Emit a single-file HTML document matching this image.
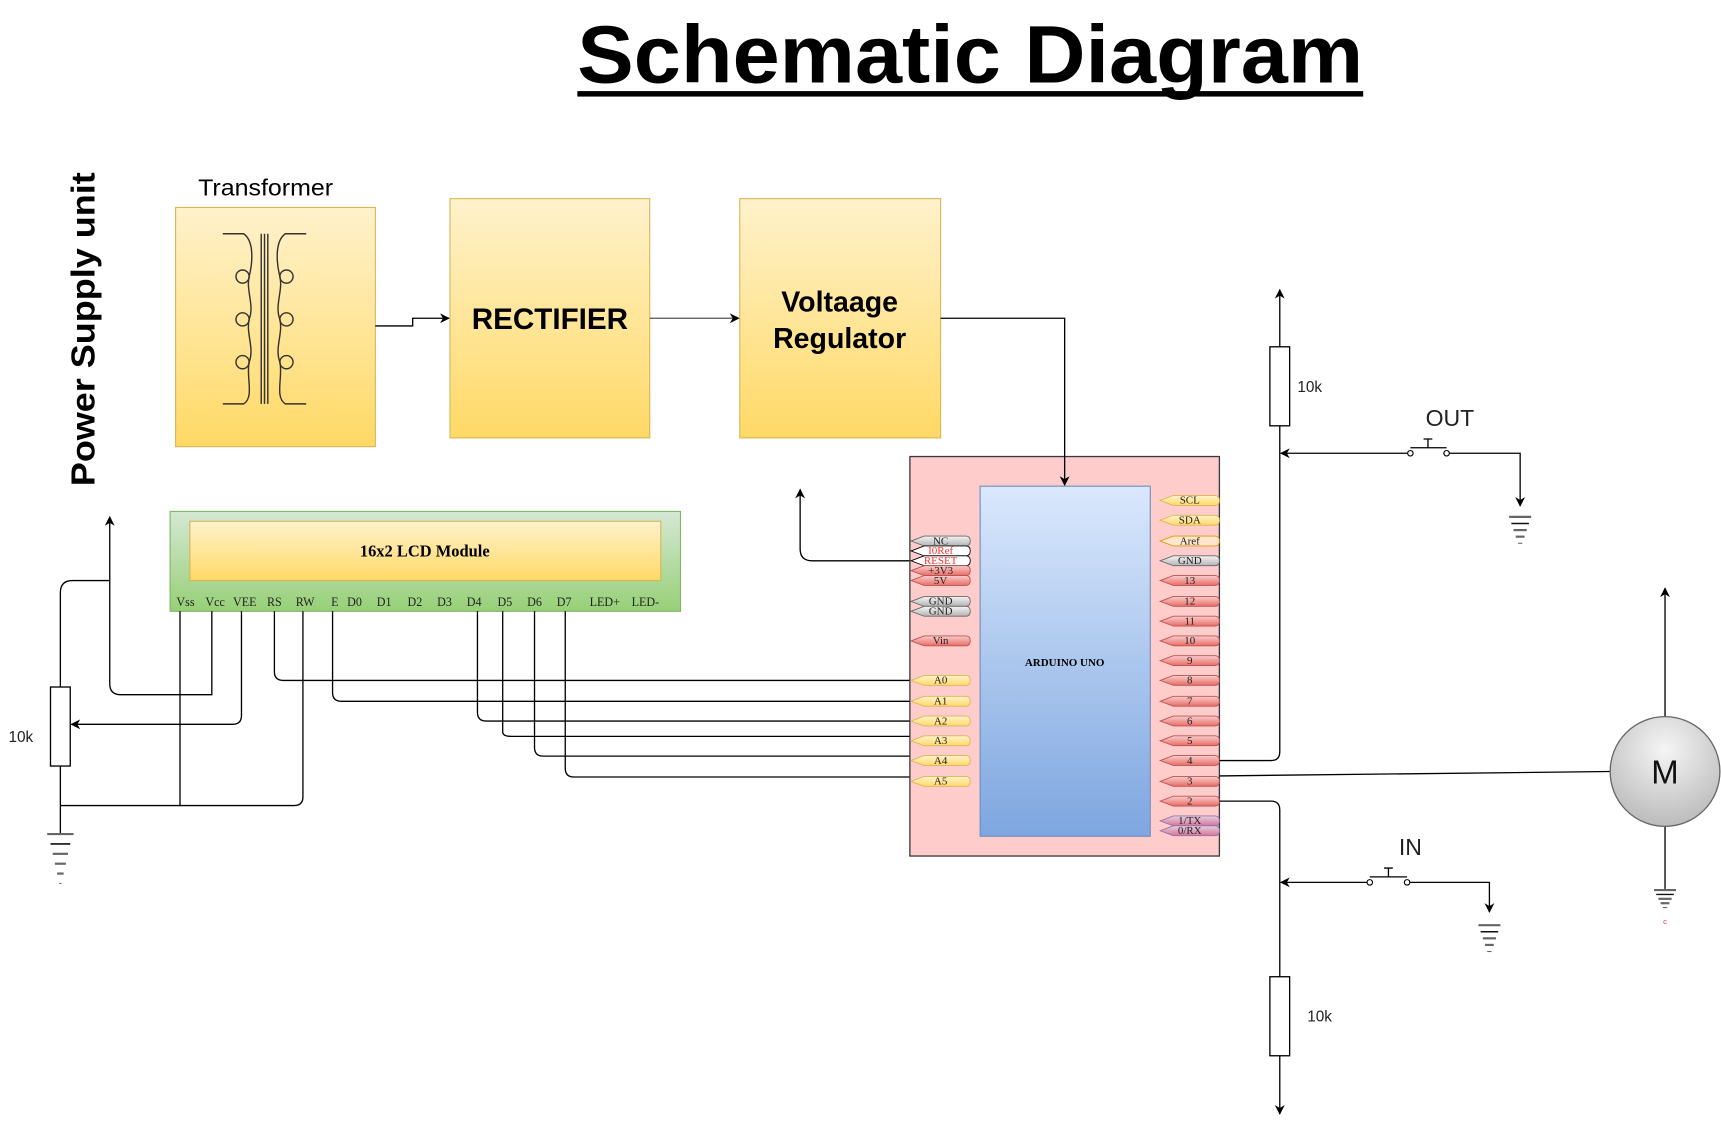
<!DOCTYPE html>
<html><head><meta charset="utf-8">
<style>
html,body{margin:0;padding:0;background:#fff;}
svg{display:block;}
text{font-family:"Liberation Sans",Arial,sans-serif;}
.ser{font-family:"Liberation Serif","Times New Roman",serif;}
</style></head>
<body>
<svg width="1721" height="1126" viewBox="0 0 1568 1026" preserveAspectRatio="none" xmlns="http://www.w3.org/2000/svg">
<defs>
<linearGradient id="yel" x1="0" y1="0" x2="0" y2="1"><stop offset="0" stop-color="#fff2cc"/><stop offset="1" stop-color="#ffd966"/></linearGradient>
<linearGradient id="grn" x1="0" y1="0" x2="0" y2="1"><stop offset="0" stop-color="#d5e8d4"/><stop offset="1" stop-color="#97d077"/></linearGradient>
<linearGradient id="blu" x1="0" y1="0" x2="0" y2="1"><stop offset="0" stop-color="#dae8fc"/><stop offset="1" stop-color="#7ea6e0"/></linearGradient>
<linearGradient id="red" x1="0" y1="0" x2="0" y2="1"><stop offset="0" stop-color="#f8cecc"/><stop offset="1" stop-color="#ea6b66"/></linearGradient>
<linearGradient id="gry" x1="0" y1="0" x2="0" y2="1"><stop offset="0" stop-color="#f5f5f5"/><stop offset="1" stop-color="#b3b3b3"/></linearGradient>
<linearGradient id="pur" x1="0" y1="0" x2="0" y2="1"><stop offset="0" stop-color="#e6d0de"/><stop offset="1" stop-color="#d5739d"/></linearGradient>
<linearGradient id="pyel" x1="0" y1="0" x2="0" y2="1"><stop offset="0" stop-color="#fff2cc"/><stop offset="1" stop-color="#ffd966"/></linearGradient>
<radialGradient id="mot" cx="0.5" cy="0.3" r="0.8"><stop offset="0" stop-color="#f5f5f5"/><stop offset="1" stop-color="#b3b3b3"/></radialGradient>
<marker id="ar" viewBox="0 0 10 10" refX="9" refY="5" markerWidth="9" markerHeight="9" orient="auto-start-reverse" markerUnits="userSpaceOnUse"><path d="M0,0 L10,5 L0,10 L3,5 Z" fill="#000"/></marker>
</defs>

<!-- Title -->
<text x="526" y="75" font-size="74" font-weight="bold" textLength="716" lengthAdjust="spacingAndGlyphs">Schematic Diagram</text>
<rect x="526" y="83" width="716" height="5" fill="#000"/>

<!-- Power supply label -->
<text transform="translate(86,443) rotate(-90)" font-size="30" font-weight="bold" textLength="286" lengthAdjust="spacingAndGlyphs">Power Supply unit</text>

<!-- Transformer -->
<text x="242" y="178" font-size="21" text-anchor="middle" textLength="123" lengthAdjust="spacingAndGlyphs">Transformer</text>
<rect x="160" y="189" width="182" height="218" fill="url(#yel)" stroke="#d6b656"/>
<g fill="none" stroke="#333" stroke-width="1.3">
<line x1="238" y1="213" x2="238" y2="368"/><line x1="241" y1="213" x2="241" y2="368"/><line x1="244" y1="213" x2="244" y2="368"/>
<path d="M203,213 H222 C232,220 230,240 227,252 C224,265 232,278 227,291 C224,304 232,317 227,330 C224,343 232,362 222,368 H203"/>
<circle cx="221" cy="252" r="6"/><circle cx="221" cy="291" r="6"/><circle cx="221" cy="330" r="6"/>
<path d="M279,213 H260 C250,220 252,240 255,252 C258,265 250,278 255,291 C258,304 250,317 255,330 C258,343 250,362 260,368 H279"/>
<circle cx="261" cy="252" r="6"/><circle cx="261" cy="291" r="6"/><circle cx="261" cy="330" r="6"/>
</g>

<rect x="410" y="181" width="182" height="218" fill="url(#yel)" stroke="#d6b656"/>
<text x="501" y="300" font-size="27" font-weight="bold" text-anchor="middle">RECTIFIER</text>
<rect x="674" y="181" width="183" height="218" fill="url(#yel)" stroke="#d6b656"/>
<text x="765" y="284" font-size="26" font-weight="bold" text-anchor="middle">Voltaage</text>
<text x="765" y="317" font-size="26" font-weight="bold" text-anchor="middle">Regulator</text>

<g fill="none" stroke="#000" stroke-width="1.2">
<path d="M342,297 H376 V290 H409" marker-end="url(#ar)"/>
<path d="M592,290 H673" stroke="#555" marker-end="url(#ar)"/>
</g>

<!-- LCD -->
<rect x="155" y="466" width="465" height="91" fill="url(#grn)" stroke="#82b366"/>
<rect x="173" y="475" width="429" height="54" fill="url(#yel)" stroke="#d6b656"/>
<text class="ser" x="387" y="507" font-size="15" font-weight="bold" text-anchor="middle">16x2 LCD Module</text>
<g class="ser" font-size="11" text-anchor="middle" fill="#222">
<text x="169" y="552" class="ser">Vss</text><text x="196" y="552" class="ser">Vcc</text><text x="223" y="552" class="ser">VEE</text><text x="250" y="552" class="ser">RS</text><text x="278" y="552" class="ser">RW</text><text x="305" y="552" class="ser">E</text><text x="323" y="552" class="ser">D0</text><text x="350" y="552" class="ser">D1</text><text x="378" y="552" class="ser">D2</text><text x="405" y="552" class="ser">D3</text><text x="432" y="552" class="ser">D4</text><text x="460" y="552" class="ser">D5</text><text x="487" y="552" class="ser">D6</text><text x="514" y="552" class="ser">D7</text><text x="551" y="552" class="ser">LED+</text><text x="588" y="552" class="ser">LED-</text>
</g>

<!-- LCD wires -->
<g fill="none" stroke="#000" stroke-width="1.2">
<path d="M164,557 V734"/>
<path d="M193,557 V633 H110 Q100,633 100,623 V471" marker-end="url(#ar)"/>
<path d="M220,557 V652 Q220,660 212,660 H65" marker-end="url(#ar)"/>
<path d="M250,557 V612 Q250,620 258,620 H830"/>
<path d="M276,557 V726 Q276,734 268,734 H55"/>
<path d="M303,557 V631 Q303,639 311,639 H830"/>
<path d="M435,557 V649 Q435,657 443,657 H830"/>
<path d="M458,557 V667 Q458,671 466,671 H830 "/>
<path d="M487,557 V681 Q487,689 495,689 H830"/>
<path d="M515,557 V700 Q515,708 523,708 H830"/>
<path d="M100,529 H66 Q55,529 55,540 V626"/>
<path d="M55,698 V760"/>
<path d="M830,511 H740 Q729,511 729,500 V446" marker-end="url(#ar)"/>
</g>
<rect x="46" y="626" width="18" height="72" fill="#fff" stroke="#000" stroke-width="1.2"/>
<text x="19" y="676" font-size="14" text-anchor="middle" fill="#222">10k</text>
<g stroke="#666" stroke-width="2">
<line x1="43" y1="760" x2="67" y2="760"/><line x1="46" y1="769" x2="64" y2="769" stroke="#111" stroke-width="1.5"/><line x1="48" y1="778" x2="62" y2="778"/><line x1="50" y1="787" x2="60" y2="787"/><line x1="52" y1="796" x2="58" y2="796"/><line x1="54" y1="805" x2="56" y2="805" stroke-width="1"/>
</g>

<!-- Arduino -->
<rect x="829" y="416" width="282" height="364" fill="#ffcccc" stroke="#36393d" stroke-width="1.2"/>
<rect x="893" y="443" width="155" height="319" fill="url(#blu)" stroke="#6c8ebf"/>
<text class="ser" x="970" y="607" font-size="10" font-weight="bold" text-anchor="middle">ARDUINO UNO</text>
<path d="M857,290 H970 V442" fill="none" stroke="#000" stroke-width="1.2" marker-end="url(#ar)"/>

<g stroke-width="0.8" class="ser">
<g stroke="#666"><path d="M830,493 L842,488.5 H880 Q884,488.5 884,493 Q884,497.5 880,497.5 H842 Z" fill="url(#gry)"/></g>
<path d="M830,502 L842,497.5 H880 Q884,497.5 884,502 Q884,506.5 880,506.5 H842 Z" fill="#fff" stroke="#000"/>
<path d="M830,511 L842,506.5 H880 Q884,506.5 884,511 Q884,515.5 880,515.5 H842 Z" fill="#fff" stroke="#000"/>
<g fill="url(#red)" stroke="#b85450">
<path d="M830,520 L842,515.5 H880 Q884,515.5 884,520 Q884,524.5 880,524.5 H842 Z"/>
<path d="M830,529 L842,524.5 H880 Q884,524.5 884,529 Q884,533.5 880,533.5 H842 Z"/>
<path d="M830,584 L842,579.5 H880 Q884,579.5 884,584 Q884,588.5 880,588.5 H842 Z"/>
</g>
<g fill="url(#gry)" stroke="#666">
<path d="M830,548 L842,543.5 H880 Q884,543.5 884,548 Q884,552.5 880,552.5 H842 Z"/>
<path d="M830,557 L842,552.5 H880 Q884,552.5 884,557 Q884,561.5 880,561.5 H842 Z"/>
</g>
<g fill="url(#pyel)" stroke="#d6b656">
<path d="M830,620 L842,615.5 H880 Q884,615.5 884,620 Q884,624.5 880,624.5 H842 Z"/>
<path d="M830,639 L842,634.5 H880 Q884,634.5 884,639 Q884,643.5 880,643.5 H842 Z"/>
<path d="M830,657 L842,652.5 H880 Q884,652.5 884,657 Q884,661.5 880,661.5 H842 Z"/>
<path d="M830,675 L842,670.5 H880 Q884,670.5 884,675 Q884,679.5 880,679.5 H842 Z"/>
<path d="M830,693 L842,688.5 H880 Q884,688.5 884,693 Q884,697.5 880,697.5 H842 Z"/>
<path d="M830,712 L842,707.5 H880 Q884,707.5 884,712 Q884,716.5 880,716.5 H842 Z"/>
</g>
<g fill="url(#pyel)" stroke="#d6b656">
<path d="M1057,456 L1069,451.5 H1107 Q1111,451.5 1111,456 Q1111,460.5 1107,460.5 H1069 Z"/>
<path d="M1057,474 L1069,469.5 H1107 Q1111,469.5 1111,474 Q1111,478.5 1107,478.5 H1069 Z"/>
</g>
<path d="M1057,493 L1069,488.5 H1107 Q1111,488.5 1111,493 Q1111,497.5 1107,497.5 H1069 Z" fill="#ffe6cc" stroke="#d79b00"/>
<path d="M1057,511 L1069,506.5 H1107 Q1111,506.5 1111,511 Q1111,515.5 1107,515.5 H1069 Z" fill="url(#gry)" stroke="#666"/>
<g fill="url(#red)" stroke="#b85450">
<path d="M1057,529 L1069,524.5 H1107 Q1111,524.5 1111,529 Q1111,533.5 1107,533.5 H1069 Z"/>
<path d="M1057,548 L1069,543.5 H1107 Q1111,543.5 1111,548 Q1111,552.5 1107,552.5 H1069 Z"/>
<path d="M1057,566 L1069,561.5 H1107 Q1111,561.5 1111,566 Q1111,570.5 1107,570.5 H1069 Z"/>
<path d="M1057,584 L1069,579.5 H1107 Q1111,579.5 1111,584 Q1111,588.5 1107,588.5 H1069 Z"/>
<path d="M1057,602 L1069,597.5 H1107 Q1111,597.5 1111,602 Q1111,606.5 1107,606.5 H1069 Z"/>
<path d="M1057,620 L1069,615.5 H1107 Q1111,615.5 1111,620 Q1111,624.5 1107,624.5 H1069 Z"/>
<path d="M1057,639 L1069,634.5 H1107 Q1111,634.5 1111,639 Q1111,643.5 1107,643.5 H1069 Z"/>
<path d="M1057,657 L1069,652.5 H1107 Q1111,652.5 1111,657 Q1111,661.5 1107,661.5 H1069 Z"/>
<path d="M1057,675 L1069,670.5 H1107 Q1111,670.5 1111,675 Q1111,679.5 1107,679.5 H1069 Z"/>
<path d="M1057,693 L1069,688.5 H1107 Q1111,688.5 1111,693 Q1111,697.5 1107,697.5 H1069 Z"/>
<path d="M1057,712 L1069,707.5 H1107 Q1111,707.5 1111,712 Q1111,716.5 1107,716.5 H1069 Z"/>
<path d="M1057,730 L1069,725.5 H1107 Q1111,725.5 1111,730 Q1111,734.5 1107,734.5 H1069 Z"/>
</g>
<g fill="url(#pur)" stroke="#9673a6">
<path d="M1057,748 L1069,743.5 H1107 Q1111,743.5 1111,748 Q1111,752.5 1107,752.5 H1069 Z"/>
<path d="M1057,757 L1069,752.5 H1107 Q1111,752.5 1111,757 Q1111,761.5 1107,761.5 H1069 Z"/>
</g>
</g>
<g class="ser" font-size="10" text-anchor="middle" fill="#222">
<text class="ser" x="857" y="496">NC</text>
<text class="ser" x="857" y="505" fill="#ff3333">I0Ref</text>
<text class="ser" x="857" y="514" fill="#ff3333">RESET</text>
<text class="ser" x="857" y="523">+3V3</text>
<text class="ser" x="857" y="532">5V</text>
<text class="ser" x="857" y="551">GND</text>
<text class="ser" x="857" y="560">GND</text>
<text class="ser" x="857" y="587">Vin</text>
<text class="ser" x="857" y="623">A0</text><text class="ser" x="857" y="642">A1</text><text class="ser" x="857" y="660">A2</text><text class="ser" x="857" y="678">A3</text><text class="ser" x="857" y="696">A4</text><text class="ser" x="857" y="715">A5</text>
<text class="ser" x="1084" y="459">SCL</text><text class="ser" x="1084" y="477">SDA</text><text class="ser" x="1084" y="496">Aref</text><text class="ser" x="1084" y="514">GND</text>
<text class="ser" x="1084" y="532">13</text><text class="ser" x="1084" y="551">12</text><text class="ser" x="1084" y="569">11</text><text class="ser" x="1084" y="587">10</text><text class="ser" x="1084" y="605">9</text><text class="ser" x="1084" y="623">8</text><text class="ser" x="1084" y="642">7</text><text class="ser" x="1084" y="660">6</text><text class="ser" x="1084" y="678">5</text><text class="ser" x="1084" y="696">4</text><text class="ser" x="1084" y="715">3</text><text class="ser" x="1084" y="733">2</text>
<text class="ser" x="1084" y="751">1/TX</text><text class="ser" x="1084" y="760">0/RX</text>
</g>

<!-- Right side circuits -->
<g fill="none" stroke="#000" stroke-width="1.2">
<path d="M1111,693 H1158 Q1166,693 1166,685 V264" marker-end="url(#ar)"/>
<path d="M1285,413 H1167" marker-end="url(#ar)"/>
<path d="M1318,413 H1385 V461" marker-end="url(#ar)"/>
<path d="M1111,707 L1467,703"/>
<path d="M1517,653 V536" marker-end="url(#ar)"/>
<path d="M1517,753 V810"/>
<path d="M1111,730 H1158 Q1166,730 1166,738 V1015" marker-end="url(#ar)"/>
<path d="M1248,804 H1167" marker-end="url(#ar)"/>
<path d="M1282,804 H1357 V831" marker-end="url(#ar)"/>
<path d="M1285,408 H1318 M1301,408 V400 M1297,400 H1305"/>
<path d="M1248,799 H1282 M1265,799 V791 M1261,791 H1269"/>
</g>
<g fill="#fff" stroke="#000" stroke-width="1"><circle cx="1285" cy="413" r="2.5"/><circle cx="1318" cy="413" r="2.5"/><circle cx="1248" cy="804" r="2.5"/><circle cx="1282" cy="804" r="2.5"/></g>
<rect x="1157" y="316" width="18" height="72" fill="#fff" stroke="#000" stroke-width="1.2"/>
<text x="1182" y="357" font-size="14" fill="#222">10k</text>
<rect x="1157" y="890" width="18" height="72" fill="#fff" stroke="#000" stroke-width="1.2"/>
<text x="1191" y="931" font-size="14" fill="#222">10k</text>
<text x="1321" y="388" font-size="21" text-anchor="middle" fill="#222">OUT</text>
<text x="1285" y="779" font-size="21" text-anchor="middle" fill="#222">IN</text>

<g stroke="#666" stroke-width="2">
<line x1="1375" y1="471" x2="1395" y2="471"/><line x1="1377" y1="477" x2="1393" y2="477" stroke="#111" stroke-width="1.3"/><line x1="1379" y1="483" x2="1391" y2="483"/><line x1="1381" y1="489" x2="1389" y2="489"/><line x1="1383" y1="495" x2="1387" y2="495" stroke-width="1"/>
<line x1="1347" y1="843" x2="1367" y2="843"/><line x1="1349" y1="849" x2="1365" y2="849" stroke="#111" stroke-width="1.3"/><line x1="1351" y1="855" x2="1363" y2="855"/><line x1="1353" y1="861" x2="1361" y2="861"/><line x1="1355" y1="867" x2="1359" y2="867" stroke-width="1"/>
<line x1="1507" y1="811" x2="1527" y2="811"/><line x1="1509" y1="815" x2="1525" y2="815" stroke="#111" stroke-width="1.3"/><line x1="1511" y1="819" x2="1523" y2="819"/><line x1="1513" y1="823" x2="1521" y2="823"/><line x1="1515" y1="827" x2="1519" y2="827" stroke-width="1"/>
</g>
<text x="1517" y="842" font-size="7" text-anchor="middle" fill="#ff3333">c</text>

<circle cx="1517" cy="703" r="50" fill="url(#mot)" stroke="#666" stroke-width="1.2"/>
<text x="1517" y="714" font-size="30" text-anchor="middle" fill="#111">M</text>
</svg>
</body></html>
